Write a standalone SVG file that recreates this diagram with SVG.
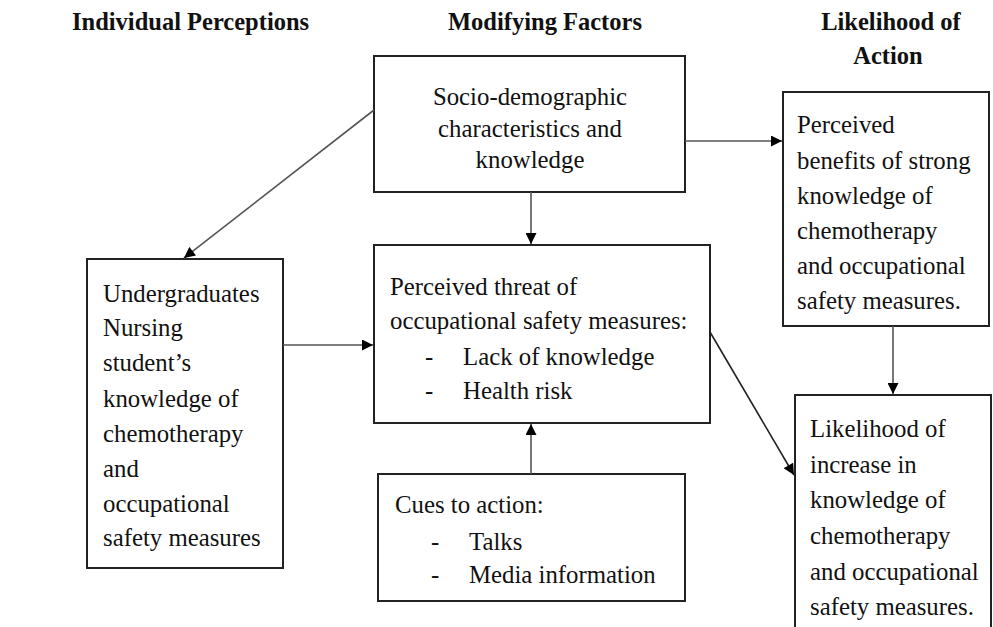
<svg xmlns="http://www.w3.org/2000/svg" width="993" height="627" viewBox="0 0 993 627">
<style>
.h{font-family:"Liberation Serif","Times New Roman",serif;font-weight:bold;font-size:24.5px;fill:#111}
.t{font-family:"Liberation Serif","Times New Roman",serif;font-size:24.8px;fill:#111}
.box{fill:#fff;stroke:#222;stroke-width:2}
.c{stroke:#555;stroke-width:1.6;fill:none;marker-end:url(#ah)}
</style>
<defs>
<marker id="ah" viewBox="0 0 10 10" refX="10" refY="5" markerWidth="12" markerHeight="11" markerUnits="userSpaceOnUse" orient="auto"><path d="M0,0 L10,5 L0,10 z" fill="#000"/></marker>
</defs>
<rect width="993" height="627" fill="#fff"/>
<g id="headings">
<text class="h" x="72" y="30">Individual Perceptions</text>
<text class="h" x="448" y="30">Modifying Factors</text>
<text class="h" x="891" y="30" text-anchor="middle">Likelihood of</text>
<text class="h" x="888" y="64" text-anchor="middle">Action</text>
</g>
<g id="socio">
<rect class="box" x="374" y="56" width="311" height="136"/>
<text class="t" x="530" y="105" text-anchor="middle">Socio-demographic</text>
<text class="t" x="530" y="137" text-anchor="middle">characteristics and</text>
<text class="t" x="530" y="168" text-anchor="middle">knowledge</text>
</g>
<g id="benefits">
<rect class="box" x="783" y="92" width="206" height="234"/>
<text class="t" x="797" y="133">Perceived</text>
<text class="t" x="797" y="169">benefits of strong</text>
<text class="t" x="797" y="204">knowledge of</text>
<text class="t" x="797" y="239">chemotherapy</text>
<text class="t" x="797" y="274">and occupational</text>
<text class="t" x="797" y="309">safety measures.</text>
</g>
<g id="undergrad">
<rect class="box" x="87" y="259" width="196" height="309"/>
<text class="t" x="103" y="302">Undergraduates</text>
<text class="t" x="103" y="336">Nursing</text>
<text class="t" x="103" y="371">student’s</text>
<text class="t" x="103" y="407">knowledge of</text>
<text class="t" x="103" y="442">chemotherapy</text>
<text class="t" x="103" y="477">and</text>
<text class="t" x="103" y="512">occupational</text>
<text class="t" x="103" y="546">safety measures</text>
</g>
<g id="threat">
<rect class="box" x="374" y="245" width="336" height="178"/>
<text class="t" x="390" y="295">Perceived threat of</text>
<text class="t" x="390" y="329">occupational safety measures:</text>
<text class="t" x="425" y="365">-</text>
<text class="t" x="463" y="365">Lack of knowledge</text>
<text class="t" x="425" y="399">-</text>
<text class="t" x="463" y="399">Health risk</text>
</g>
<g id="cues">
<rect class="box" x="378" y="474" width="307" height="127"/>
<text class="t" x="395" y="513">Cues to action:</text>
<text class="t" x="431" y="550">-</text>
<text class="t" x="469" y="550">Talks</text>
<text class="t" x="431" y="583">-</text>
<text class="t" x="469" y="583">Media information</text>
</g>
<g id="likelihood">
<rect class="box" x="795" y="395" width="196" height="234"/>
<text class="t" x="810" y="437">Likelihood of</text>
<text class="t" x="810" y="473">increase in</text>
<text class="t" x="810" y="508">knowledge of</text>
<text class="t" x="810" y="544">chemotherapy</text>
<text class="t" x="810" y="580">and occupational</text>
<text class="t" x="810" y="615">safety measures.</text>
</g>
<g id="connectors">
<line class="c" x1="374" y1="110" x2="184" y2="258"/>
<line class="c" x1="531" y1="192" x2="531" y2="244"/>
<line class="c" x1="685" y1="141" x2="782" y2="141"/>
<line class="c" x1="283" y1="345" x2="373" y2="345"/>
<line class="c" x1="531" y1="474" x2="531" y2="424"/>
<line class="c" x1="710" y1="332" x2="794" y2="475" style="stroke:#222"/>
<line class="c" x1="893" y1="326" x2="893" y2="394"/>
</g>
</svg>
